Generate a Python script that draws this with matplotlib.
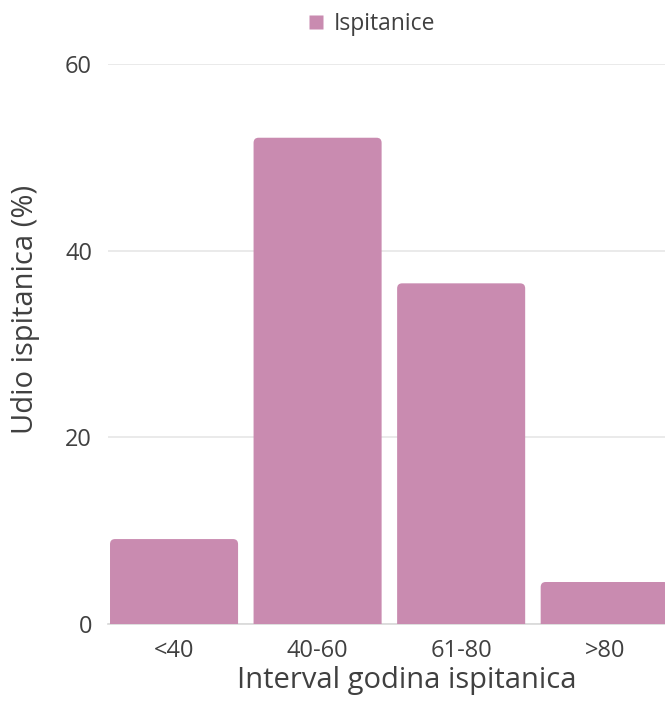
import matplotlib
matplotlib.use("Agg")
import matplotlib.pyplot as plt
from matplotlib.patches import FancyBboxPatch
from matplotlib.lines import Line2D

categories = ["<40", "40-60", "61-80", ">80"]
values = [9.1, 52.1, 36.5, 4.5]
series_name = "Ispitanice"
yticks = [0, 20, 40, 60]

color = "#C98BB0"
txt = "#404040"
plt.rcParams['font.family'] = ['Open Sans', 'DejaVu Sans']

fig = plt.figure(figsize=(6.65, 7.02), dpi=100)
ax = fig.add_axes([108/665, 78/702, 557/665, 560/702])

x = list(range(len(categories)))
bars = ax.bar(x, values, width=0.892, color=color)
rx = 0.035
ry = 0.55
for b in bars:
    b.set_visible(False)
    bx, by = b.get_x(), b.get_y()
    w, h = b.get_width(), b.get_height()
    p = FancyBboxPatch((bx, by - 2), w, h + 2,
                       boxstyle=f"round,pad=0,rounding_size={rx}",
                       mutation_aspect=ry / rx,
                       facecolor=color, edgecolor="none", zorder=3)
    ax.add_patch(p)

ax.set_xlim(-0.46, 3.42)
ax.set_ylim(0, 60)
ax.set_yticks(yticks)
ax.set_xticks(x)
ax.set_xticklabels(categories)
ax.grid(axis='y', color='#e6e6e6', linewidth=1.2, zorder=0)
ax.set_axisbelow(True)
for s in ['top', 'right', 'left']:
    ax.spines[s].set_visible(False)
ax.spines['bottom'].set_color('#d8d8d8')
ax.spines['bottom'].set_linewidth(1.2)
ax.tick_params(axis='both', length=0, labelsize=17, colors=txt)
ax.tick_params(axis='x', pad=11)
ax.tick_params(axis='y', pad=11.5)
ax.set_xlabel("Interval godina ispitanica", fontsize=21, color=txt)
ax.xaxis.set_label_coords(0.537, -0.075)
ax.set_ylabel("Udio ispitanica (%)", fontsize=21, color=txt)
ax.yaxis.set_label_coords(-0.149, 0.561)
ax.yaxis.label.set_va('center')

handle = Line2D([], [], marker='s', linestyle='none', markersize=9.5,
                markerfacecolor=color, markeredgecolor='none')
fig.legend([handle], [series_name], loc='center', bbox_to_anchor=(0.556, 0.966),
           frameon=False, fontsize=16.5, labelcolor=txt, handletextpad=0.3,
           handlelength=1.0)

fig.savefig("out.png", dpi=100)
